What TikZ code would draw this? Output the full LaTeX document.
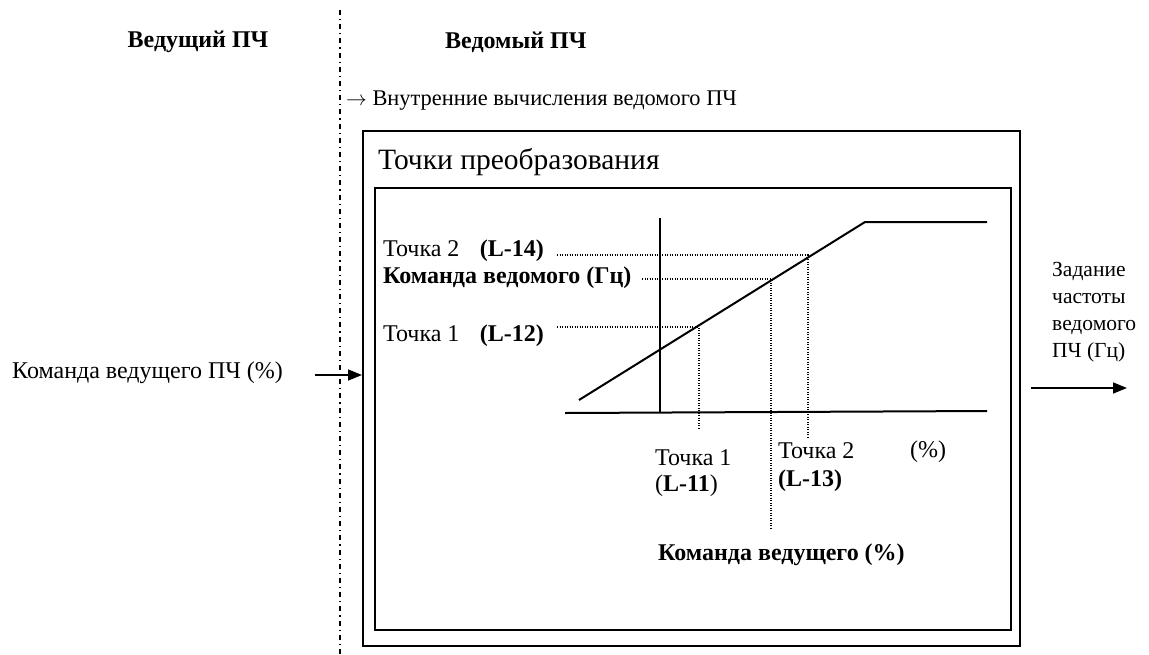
\documentclass[tikz,border=0pt]{standalone}
\usepackage{fontspec}
\setmainfont{Liberation Serif}
\usetikzlibrary{arrows.meta,positioning}
\tikzset{
  lbl/.style={inner sep=0pt,anchor=west,font=\fontsize{24}{27}\selectfont},
  blbl/.style={lbl,font=\fontsize{24}{27}\selectfont\bfseries},
  frame/.style={draw,line width=2pt,inner sep=0pt},
  axis/.style={line width=2pt},
  guide/.style={line width=1.2pt,dash pattern=on 1.2pt off 1.3pt},
  border/.style={line width=1.5pt,dash pattern=on 5pt off 4pt on 1.2pt off 4pt},
  sig/.style={-{Triangle[length=14pt,width=11pt]},line width=1.5pt}
}
\begin{document}
\begin{tikzpicture}[x=1pt,y=-1pt]
\useasboundingbox (0,0) rectangle (1149,654);
% master / slave split
\coordinate (top) at (340,10);
\coordinate (bot) at (340,654);
\draw[border] (top) -- (bot);
\node[blbl,anchor=center] (master) at (198,42) {Ведущий ПЧ};
\node[blbl] (slave) at (445,42) {Ведомый ПЧ};
\node[lbl,font=\fontsize{22.4}{26}\selectfont] (calc) at (346,101) {$\rightarrow$ Внутренние вычисления ведомого ПЧ};
% boxes
\node[frame,minimum width=657pt,minimum height=515pt] (outer) at (691.5,388.5) {};
\node[frame,minimum width=636pt,minimum height=442pt] (inner) at (693,409) {};
\node[lbl,font=\fontsize{29.5}{34}\selectfont] (title) at (378,162) {Точки преобразования};
% characteristic
\draw[axis] (660,218) -- (660,413);
\draw[axis] (565,413) -- (987,411);
\draw[axis] (579,400) -- (865,222) -- (987,222);
% point labels, slave side
\node[lbl] (p2y) at (383,251) {Точка 2\hspace{0.85em}\textbf{(L-14)}};
\node[blbl] (cmdy) at (383,278) {Команда ведомого (Гц)};
\node[lbl] (p1y) at (383,336) {Точка 1\hspace{0.85em}\textbf{(L-12)}};
\draw[guide] (557,255) -- (808,255) -- (808,437);
\draw[guide] (642,279) -- (771,279) -- (771,528);
\draw[guide] (557,327) -- (699,327) -- (699,428);
% point labels, master side
\node[lbl] (p1x) at (655,458) {Точка 1};
\node[lbl] (l11) at (655,486) {(\textbf{L-11})};
\node[lbl] (p2x) at (778,451) {Точка 2};
\node[blbl] (l13) at (778,481) {(L-13)};
\node[lbl] (pct) at (910,452) {(\%)};
\node[blbl] (cmdx) at (658,555) {Команда ведущего (\%)};
% input and output
\node[lbl] (inlbl) at (12,373) {Команда ведущего ПЧ (\%)};
\coordinate (inA) at (315,375);
\draw[sig] (inA) -- (inA -| outer.west);
\node[lbl,align=left,font=\fontsize{21.5}{27}\selectfont] (outlbl) at (1052,312) {Задание\\частоты\\ведомого\\ПЧ (Гц)};
\coordinate (outA) at (1031,388);
\coordinate (outB) at (1127,388);
\draw[sig] (outA) -- (outB);
\end{tikzpicture}
\end{document}
